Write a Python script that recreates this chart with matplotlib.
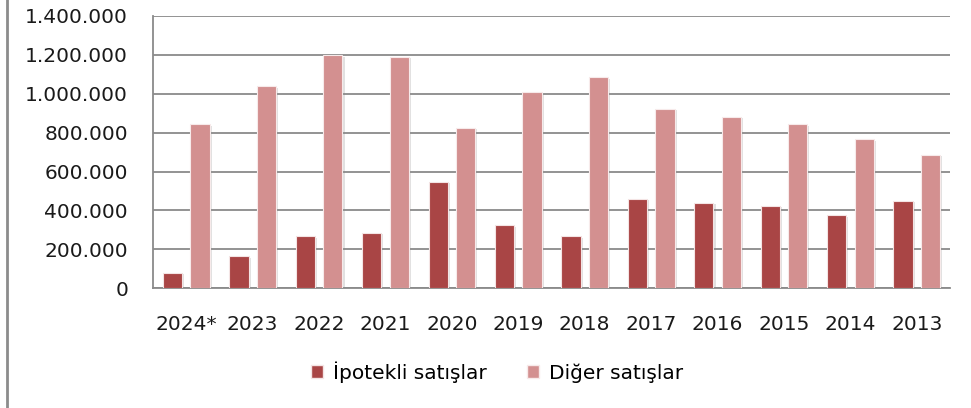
import matplotlib.pyplot as plt
import matplotlib.patheffects as pe
from matplotlib.patches import Patch
from matplotlib.lines import Line2D
from matplotlib.ticker import FuncFormatter, MultipleLocator
import numpy as np

years = ["2024*", "2023", "2022", "2021", "2020", "2019",
         "2018", "2017", "2016", "2015", "2014", "2013"]
ipotekli = [80000, 165000, 267000, 286000, 547000, 324000,
            267000, 461000, 439000, 425000, 376000, 449000]
diger = [844000, 1039000, 1198000, 1191000, 826000, 1008000,
         1085000, 922000, 881000, 844000, 767000, 687000]
series_names = ["İpotekli satışlar", "Diğer satışlar"]

DARK = "#a94545"
LIGHT = "#d39090"
GRID = "#8a8a8a"

fig = plt.figure(figsize=(9.71, 4.08), dpi=100)
ax = fig.add_axes([0.1576, 0.2934, 0.8208, 0.6674])

x = np.arange(len(years))
width = 0.29
offset = 0.207
shadow = [pe.SimplePatchShadow(offset=(1.5, -1), shadow_rgbFace="#888888", alpha=0.25),
          pe.Normal()]

b1 = ax.bar(x - offset, ipotekli, width, color=DARK, edgecolor="#f4e4e4",
            linewidth=0.8, zorder=3)
b2 = ax.bar(x + offset, diger, width, color=LIGHT, edgecolor="#f7eaea",
            linewidth=0.8, zorder=3)
for bar in list(b1) + list(b2):
    bar.set_path_effects(shadow)

ax.set_xlim(-0.5, len(years) - 0.5)
ax.set_ylim(0, 1400000)
ax.yaxis.set_major_locator(MultipleLocator(200000))
ax.yaxis.set_major_formatter(FuncFormatter(lambda v, p: f"{int(v):,}".replace(",", ".")))
ax.grid(axis="y", color=GRID, linewidth=1.3, zorder=0)
ax.set_axisbelow(True)

ax.set_xticks(x)
ax.set_xticklabels(years)
ax.tick_params(axis="both", length=0, labelsize=14.5, colors="#1a1a1a")
ax.tick_params(axis="y", pad=18)
ax.tick_params(axis="x", pad=19)

for side in ["top", "right"]:
    ax.spines[side].set_visible(False)
ax.spines["left"].set_color(GRID)
ax.spines["bottom"].set_color(GRID)
ax.spines["left"].set_linewidth(1.3)
ax.spines["bottom"].set_linewidth(1.3)

handles = [Patch(facecolor=DARK, edgecolor="#f4e4e4"),
           Patch(facecolor=LIGHT, edgecolor="#f7eaea")]
fig.legend(handles, series_names, loc="center", bbox_to_anchor=(0.512, 0.088),
           ncol=2, frameon=False, fontsize=14.5, handlelength=0.6, handleheight=0.6,
           handletextpad=0.5, columnspacing=2.0)

fig.add_artist(Line2D([7 / 971, 7 / 971], [0, 1], color="#8c8c8c", linewidth=2))

fig.savefig("out.png", dpi=100, facecolor="white")
